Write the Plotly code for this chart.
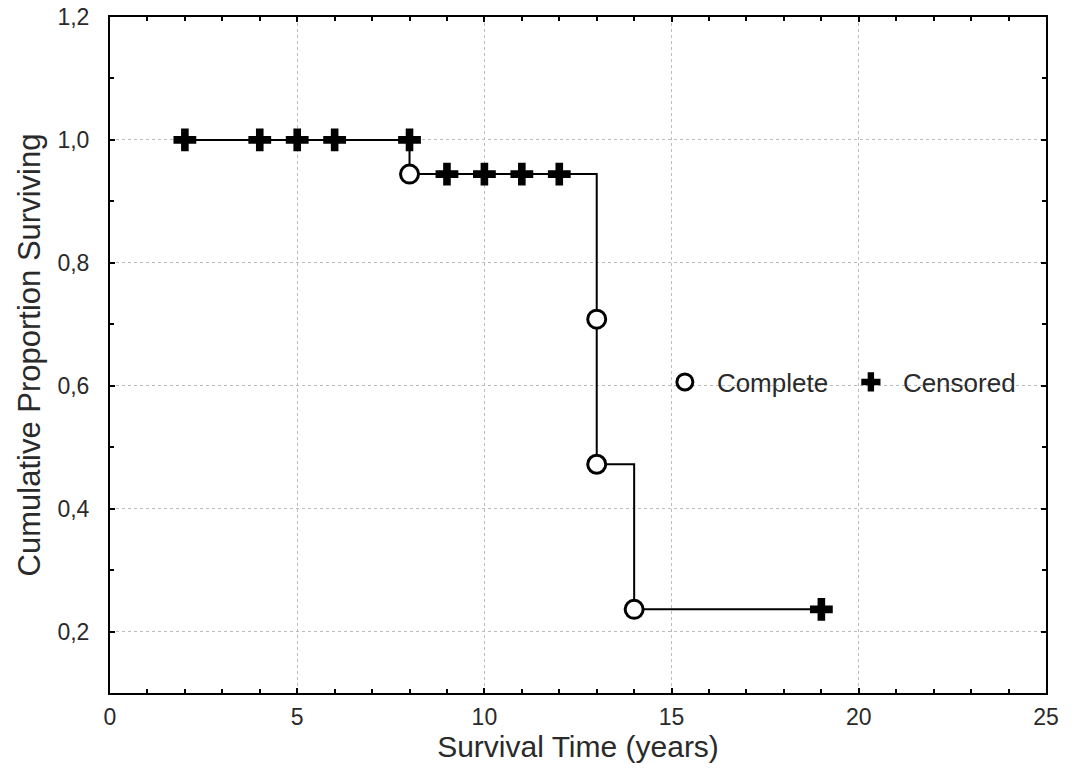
import plotly.graph_objects as go

# Kaplan-Meier estimate: survival time (years) and cumulative proportion surviving
complete_time = [8, 13, 13, 14]
complete_surv = [0.9444, 0.7083, 0.4722, 0.2361]

censored_time = [2, 4, 5, 6, 8, 9, 10, 11, 12, 19]
censored_surv = [1.0, 1.0, 1.0, 1.0, 1.0, 0.9444, 0.9444, 0.9444, 0.9444, 0.2361]

# step curve: from the first observation, through each failure, to the last observation
step_x = [censored_time[0]] + complete_time + [censored_time[-1]]
step_y = [censored_surv[0]] + complete_surv + [censored_surv[-1]]

FONT = "Liberation Sans, Arial, sans-serif"
TXT = "#2a2a2a"

fig = go.Figure()

fig.add_trace(go.Scatter(
    x=step_x, y=step_y, mode="lines", line_shape="hv",
    line=dict(color="black", width=2), showlegend=False, hoverinfo="skip",
))

fig.add_trace(go.Scatter(
    x=complete_time, y=complete_surv, mode="markers", name="Complete",
    marker=dict(symbol="circle", size=18, color="white",
                line=dict(color="black", width=3)),
))

fig.add_trace(go.Scatter(
    x=censored_time, y=censored_surv, mode="markers", name="Censored",
    marker=dict(symbol="cross", size=19, color="black",
                line=dict(width=0)),
))

axis_common = dict(
    showline=True, linecolor="black", linewidth=2, mirror="allticks",
    ticks="inside", ticklen=5, tickwidth=2, tickcolor="black",
    showgrid=True, gridcolor="#bcbcbc", gridwidth=1, griddash="dot",
    zeroline=False, automargin=False,
    tickfont=dict(family=FONT, size=23, color=TXT),
)

fig.update_xaxes(
    **axis_common,
    range=[0, 25], tick0=0, dtick=5,
    minor=dict(dtick=1, ticks="inside", ticklen=4, tickwidth=2,
               tickcolor="black", showgrid=False),
    ticklabelstandoff=2,
    title=dict(text="Survival Time (years)",
               font=dict(family=FONT, size=30, color=TXT), standoff=5),
)

fig.update_yaxes(
    **axis_common,
    range=[0.1, 1.2], tick0=0.2, dtick=0.2, tickformat=".1f",
    minor=dict(dtick=0.1, ticks="inside", ticklen=4, tickwidth=2,
               tickcolor="black", showgrid=False),
    ticklabelstandoff=14,
    title=dict(text="Cumulative Proportion Surviving",
               font=dict(family=FONT, size=31, color=TXT), standoff=8),
)

fig.update_layout(
    width=1083, height=783,
    margin=dict(l=110, r=37, t=17, b=90),
    paper_bgcolor="white", plot_bgcolor="white",
    separators=", ",
    font=dict(family=FONT, color=TXT),
    legend=dict(
        orientation="h", x=0.580, y=0.46, xanchor="left", yanchor="middle",
        itemwidth=54, entrywidth=117,
        bgcolor="rgba(0,0,0,0)", borderwidth=0,
        font=dict(family=FONT, size=26, color=TXT),
    ),
)

fig.write_html("out.html")
